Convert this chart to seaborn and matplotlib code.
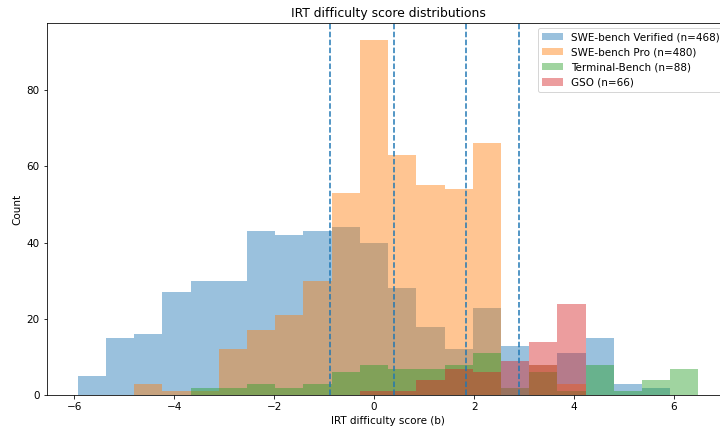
import numpy as np
import pandas as pd
import matplotlib
matplotlib.use("Agg")
import matplotlib.pyplot as plt
import seaborn as sns

# shared histogram bins (22 equal-width bins over the pooled score range)
b_min = -5.93
b_max = 6.49
n_bins = 22

# counts per bin (bin 0 = leftmost)
verified_counts = [5, 15, 16, 27, 30, 30, 43, 42, 43, 44, 40, 28, 18, 12, 23, 13, 8, 11, 15, 3, 2, 0]
pro_counts = [0, 0, 3, 1, 1, 12, 17, 21, 30, 53, 93, 63, 55, 54, 66, 0, 8, 3, 0, 0, 0, 0]
terminal_counts = [0, 0, 0, 0, 2, 2, 3, 2, 3, 6, 8, 7, 7, 8, 11, 2, 6, 1, 8, 1, 4, 7]
gso_counts = [0, 0, 0, 0, 0, 0, 0, 0, 0, 0, 1, 1, 4, 7, 6, 9, 14, 24, 0, 0, 0, 0]

labels = ["SWE-bench Verified (n=468)", "SWE-bench Pro (n=480)",
          "Terminal-Bench (n=88)", "GSO (n=66)"]

# dashed reference lines
cutoffs = [-0.88, 0.40, 1.83, 2.89]

edges = np.linspace(b_min, b_max, n_bins + 1)
centers = (edges[:-1] + edges[1:]) / 2

plt.rcParams["font.size"] = 10.4

fig = plt.figure(figsize=(10, 6), dpi=72)
# the original axes run a little past the right edge of the picture
ax = fig.add_axes([0.0649, 0.085, 0.9483, 0.8625])

series = [verified_counts, pro_counts, terminal_counts, gso_counts]
colors = ["C0", "C1", "C2", "C3"]
for counts, lab, col in zip(series, labels, colors):
    df = pd.DataFrame({"b": centers, "count": counts})
    sns.histplot(data=df, x="b", weights="count", bins=n_bins,
                 binrange=(b_min, b_max), color=col,
                 alpha=0.45, linewidth=0, label=lab, ax=ax)

for c in cutoffs:
    ax.axvline(c, color="C0", linestyle="--", linewidth=1.5)

ax.set_title("IRT difficulty score distributions", fontsize=12.4)
ax.set_xlabel("IRT difficulty score (b)")
ax.set_ylabel("Count")
ax.legend(loc="upper right")

fig.savefig("out.png", dpi=72)
